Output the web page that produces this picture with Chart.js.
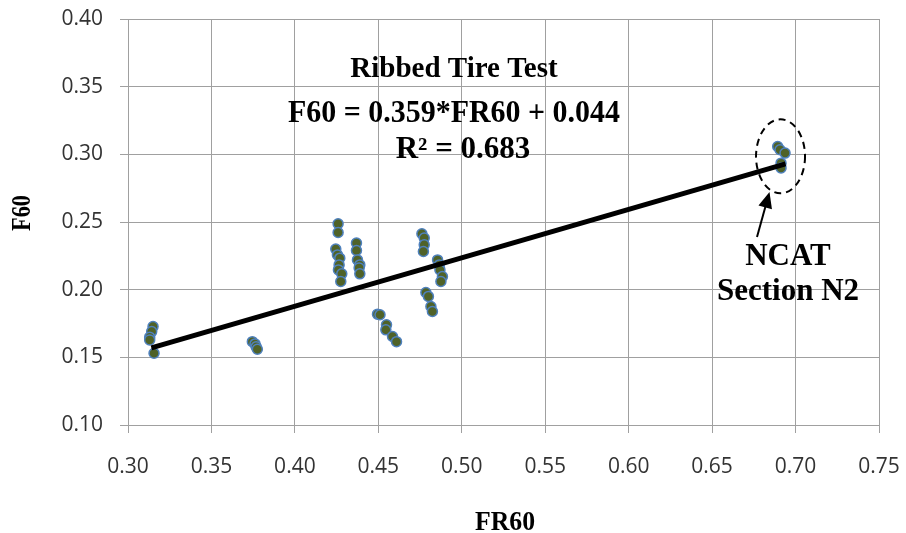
<!doctype html>
<html lang="en">
    <head>
        <meta charset="utf-8">
        <title>Ribbed Tire Test</title>
        <script src="https://cdn.jsdelivr.net/npm/chart.js@4.4.1/dist/chart.umd.min.js"></script>
        <style>
            body { margin: 0; background: #fff; }
        </style>
    </head>

    <body>
        <canvas id="myChart" width="906" height="533"></canvas>
        <script type="text/javascript">

            var fr60 = [
                0.3150, 0.3142, 0.3130, 0.3130, 0.3156,
                0.3745, 0.3761, 0.3768, 0.3775,
                0.4259, 0.4259, 0.4245, 0.4255, 0.4269, 0.4265, 0.4261, 0.4281, 0.4275,
                0.4369, 0.4369, 0.4375, 0.4389, 0.4385, 0.4389,
                0.4495, 0.4510, 0.4549, 0.4545, 0.4585, 0.4609,
                0.4761, 0.4775, 0.4775, 0.4770,
                0.4785, 0.4800, 0.4815, 0.4824,
                0.4855, 0.4865, 0.4869, 0.4884, 0.4875,
                0.6893, 0.6907, 0.6937, 0.6913, 0.6913
            ];
            var f60 = [
                0.1727, 0.1690, 0.1649, 0.1629, 0.1530,
                0.1616, 0.1599, 0.1578, 0.1560,
                0.2487, 0.2422, 0.2300, 0.2257, 0.2233, 0.2183, 0.2146, 0.2117, 0.2060,
                0.2344, 0.2289, 0.2220, 0.2183, 0.2161, 0.2117,
                0.1819, 0.1815, 0.1740, 0.1703, 0.1654, 0.1616,
                0.2413, 0.2381, 0.2331, 0.2282,
                0.1979, 0.1950, 0.1876, 0.1839,
                0.2220, 0.2183, 0.2146, 0.2097, 0.2060,
                0.3058, 0.3034, 0.3009, 0.2935, 0.2899
            ];

            // ends of the fitted line F60 = 0.359*FR60 + 0.044
            var trendFR60 = [0.314, 0.694];
            var trendF60 = [0.157, 0.293];

            var xTicks = [0.30, 0.75, 0.05];   // min, max, step
            var yTicks = [0.10, 0.40, 0.05];

            var serif = "'Liberation Serif', 'Times New Roman', serif";
            var sans = "'Open Sans', 'DejaVu Sans', sans-serif";

            function toPoints(xs, ys) {
                var out = [];
                for (var i = 0; i < xs.length; i++) out.push({x: xs[i], y: ys[i]});
                return out;
            }

            var notes = {
                id: 'notes',
                afterDraw: function(chart) {
                    var ctx = chart.ctx;
                    var xs = chart.scales.x, ys = chart.scales.y;
                    ctx.save();
                    ctx.fillStyle = '#000';
                    ctx.textAlign = 'center';
                    ctx.textBaseline = 'alphabetic';

                    ctx.font = 'bold 29px ' + serif;
                    ctx.fillText('Ribbed Tire Test', 454, 77);
                    ctx.font = 'bold 31px ' + serif;
                    ctx.fillText('F60 = 0.359*FR60 + 0.044', 454, 122, 332);
                    ctx.fillText('R\u00b2 = 0.683', 463, 158);

                    ctx.fillText('NCAT', 788, 265);
                    ctx.fillText('Section N2', 788, 300);

                    // axis titles
                    ctx.font = 'bold 28px ' + serif;
                    ctx.fillText('FR60', 505, 530, 60);
                    ctx.save();
                    ctx.translate(30, 213);
                    ctx.rotate(-Math.PI / 2);
                    ctx.fillText('F60', 0, 0, 36);
                    ctx.restore();

                    // dashed ring round the NCAT points
                    var cx = xs.getPixelForValue(0.691), cy = ys.getPixelForValue(0.2985);
                    ctx.setLineDash([7, 5]);
                    ctx.lineWidth = 2;
                    ctx.strokeStyle = '#000';
                    ctx.beginPath();
                    ctx.ellipse(cx, cy, 24.5, 37, 0, 0, Math.PI * 2);
                    ctx.stroke();
                    ctx.setLineDash([]);

                    // arrow
                    var tx = 769.5, ty = 192, sx = 757, sy = 237;
                    var ang = Math.atan2(ty - sy, tx - sx);
                    ctx.lineWidth = 2;
                    ctx.beginPath();
                    ctx.moveTo(sx, sy);
                    ctx.lineTo(tx - 12 * Math.cos(ang), ty - 12 * Math.sin(ang));
                    ctx.stroke();
                    ctx.beginPath();
                    ctx.moveTo(tx, ty);
                    ctx.lineTo(tx - 16 * Math.cos(ang) + 7 * Math.sin(ang), ty - 16 * Math.sin(ang) - 7 * Math.cos(ang));
                    ctx.lineTo(tx - 16 * Math.cos(ang) - 7 * Math.sin(ang), ty - 16 * Math.sin(ang) + 7 * Math.cos(ang));
                    ctx.closePath();
                    ctx.fill();
                    ctx.restore();
                }
            };

            var ctx = document.getElementById('myChart').getContext('2d');
            var myChart = new Chart(ctx, {
                type: 'scatter',
                data: {
                    datasets: [
                        {
                            label: 'Trend',
                            data: toPoints(trendFR60, trendF60),
                            showLine: true,
                            borderColor: '#000',
                            borderWidth: 5,
                            pointRadius: 0,
                            order: 0
                        },
                        {
                            label: 'F60',
                            data: toPoints(fr60, f60),
                            backgroundColor: '#4F6228',
                            borderColor: '#4F81BD',
                            borderWidth: 1.5,
                            pointRadius: 5,
                            order: 1
                        }
                    ]
                },
                options: {
                    responsive: false,
                    animation: false,
                    devicePixelRatio: 1,
                    layout: { padding: { left: 0, right: 27, top: 19, bottom: 0 } },
                    plugins: {
                        legend: { display: false },
                        tooltip: { enabled: false }
                    },
                    scales: {
                        x: {
                            type: 'linear',
                            min: xTicks[0], max: xTicks[1],
                            ticks: {
                                stepSize: xTicks[2],
                                padding: 6,
                                color: '#333',
                                // tall line box pushes the labels down without widening the side padding
                                font: { family: sans, size: 21, lineHeight: 2.67 },
                                callback: function(v) { return v.toFixed(2); }
                            },
                            grid: { color: '#A0A0A0', lineWidth: 1, tickLength: 8 },
                            border: { color: '#A0A0A0' },
                            afterFit: function(scale) { scale.height = 108; }
                        },
                        y: {
                            type: 'linear',
                            min: yTicks[0], max: yTicks[1],
                            ticks: {
                                stepSize: yTicks[2],
                                padding: 17,
                                color: '#333',
                                font: { family: sans, size: 21, lineHeight: 0.1 },
                                callback: function(v) { return v.toFixed(2); }
                            },
                            grid: { color: '#A0A0A0', lineWidth: 1, tickLength: 8 },
                            border: { color: '#A0A0A0' },
                            afterFit: function(scale) { scale.width = 128; }
                        }
                    }
                },
                plugins: [notes]
            });
        </script>
    </body>
</html>
